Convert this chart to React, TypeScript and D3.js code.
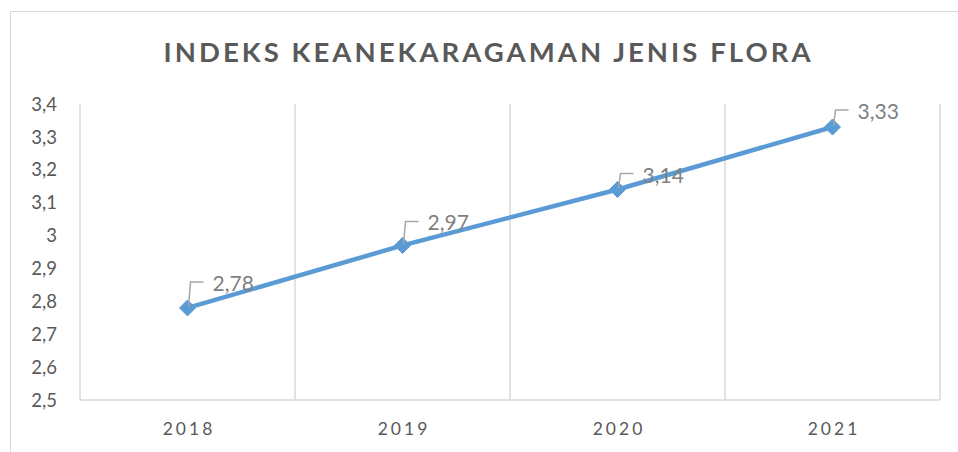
import React from "react";
import * as d3 from "d3";

const title = "INDEKS KEANEKARAGAMAN JENIS FLORA";
const years = ["2018", "2019", "2020", "2021"];
const values = [2.78, 2.97, 3.14, 3.33];
const yTicks = [2.5, 2.6, 2.7, 2.8, 2.9, 3.0, 3.1, 3.2, 3.3, 3.4];
// label leader heights (layout, in px above the marker)
const leaderRise = [26, 24, 16, 17];

const W = 958;
const H = 452;
const M = { left: 80, right: 940, top: 104, bottom: 400 };
const FONT = "Lato, 'Open Sans', sans-serif";

const fmt = (v: number) => {
  const s = d3.format(".2~f")(v);
  return s.replace(".", ",");
};

export default function App() {
  const x = d3.scaleBand<string>().domain(years).range([M.left, M.right]).padding(0);
  const y = d3.scaleLinear().domain([2.5, 3.4]).range([M.bottom, M.top]);
  const cx = (i: number) => (x(years[i]) as number) + x.bandwidth() / 2;

  const line = d3
    .line<number>()
    .x((_, i) => cx(i))
    .y((d) => y(d));

  const boundaries = [...years.map((yr) => x(yr) as number), M.right];

  return (
    <svg
      width={W}
      height={H}
      style={{ position: "absolute", left: 0, top: 0, background: "#fff" }}
    >
      <rect x={10.5} y={11.5} width={1000} height={600} fill="#fff" stroke="#d9d9d9" strokeWidth={1} />
      <text
        x={W / 2 + 8}
        y={62}
        textAnchor="middle"
        fontFamily={FONT}
        fontWeight={700}
        fontSize={27.5}
        fill="#595959"
        textLength={647}
        lengthAdjust="spacing"
      >
        {title}
      </text>

      {/* vertical gridlines */}
      {boundaries.map((bx, i) => (
        <line key={i} x1={bx} x2={bx} y1={M.top} y2={M.bottom} stroke="#d9d9d9" strokeWidth={1.5} />
      ))}
      <line x1={M.left} x2={M.right} y1={M.bottom} y2={M.bottom} stroke="#d9d9d9" strokeWidth={1.5} />

      {/* y tick labels */}
      {yTicks.map((t) => (
        <text
          key={t}
          x={57}
          y={y(t)}
          dy="0.36em"
          textAnchor="end"
          fontFamily={FONT}
          fontSize={18.5}
          fill="#595959"
        >
          {fmt(t)}
        </text>
      ))}

      {/* x labels */}
      {years.map((yr, i) => (
        <text
          key={yr}
          x={cx(i) + 1.5}
          y={435}
          textAnchor="middle"
          fontFamily={FONT}
          fontSize={17.5}
          letterSpacing={3}
          fill="#595959"
        >
          {yr}
        </text>
      ))}

      {/* line */}
      <path d={line(values) || ""} fill="none" stroke="#5b9bd5" strokeWidth={4.5} strokeLinejoin="round" />
      {values.map((v, i) => {
        const px = cx(i);
        const py = y(v);
        const r = 8;
        return (
          <path
            key={i}
            d={`M${px},${py - r}L${px + r},${py}L${px},${py + r}L${px - r},${py}Z`}
            fill="#5b9bd5"
            stroke="#5b9bd5"
            strokeWidth={1}
          />
        );
      })}

      {/* data labels with leader lines */}
      {values.map((v, i) => {
        const px = cx(i);
        const py = y(v);
        const top = py - leaderRise[i];
        return (
          <g key={i}>
            <path
              d={`M${px + 1},${py - 1}L${px + 3},${top}L${px + 16},${top}`}
              fill="none"
              stroke="#a6a6a6"
              strokeWidth={1.5}
            />
            <text
              x={px + 25}
              y={top + 9}
              fontFamily={FONT}
              fontSize={21}
              fill="#7f7f7f"
            >
              {fmt(v)}
            </text>
          </g>
        );
      })}
    </svg>
  );
}
